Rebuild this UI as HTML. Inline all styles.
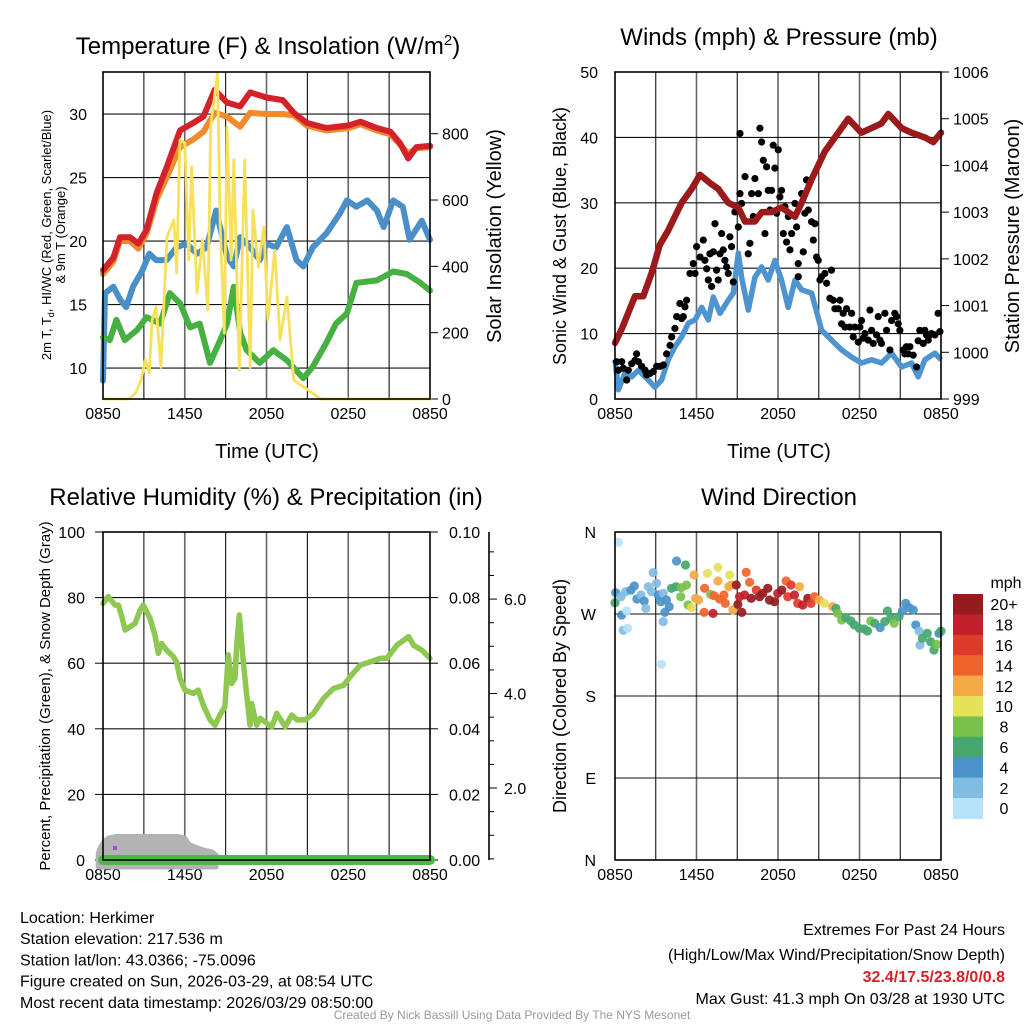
<!DOCTYPE html>
<html><head><meta charset="utf-8"><style>
html,body{margin:0;padding:0;background:#fff}
svg{display:block;font-family:"Liberation Sans",sans-serif}
</style></head><body>
<svg id="c" width="1024" height="1024" viewBox="0 0 1024 1024" xmlns="http://www.w3.org/2000/svg"></svg>
<script>
// ---------- DATA ----------
const timeTickLabels = ["0850","1450","2050","0250","0850"];
const timeTickHours = [0,6,12,18,24];
// Panel 1
const tempTicks = [10,15,20,25,30];
const solarTicks = [0,200,400,600,800];
const tTimes = [0,0.76,1.25,1.98,2.6,3.2,3.94,4.67,5.65,6.63,7.37,8.2,9.1,10.06,10.8,12.0,13.2,14.0,14.95,16.4,18.0,18.9,20.1,21.1,21.8,22.4,23.0,24];
const temp2m = [17.7,18.7,20.3,20.3,19.8,20.9,23.8,25.8,28.7,29.3,29.8,31.9,30.9,30.6,31.7,31.3,31.1,30.1,29.3,28.9,29.1,29.4,28.9,28.6,27.7,26.5,27.4,27.5];
const temp9m = [17.4,18.4,20.0,20.0,19.4,20.6,23.3,25.0,27.4,28.0,28.6,30.1,29.8,29.0,30.1,30.0,30.0,29.9,29.1,28.7,28.9,29.2,28.7,28.4,27.6,26.9,27.3,27.4];
const tdTimes = [0,0.15,0.76,1.25,1.7,2.2,2.9,3.4,3.9,4.67,5.4,6.1,6.9,7.6,8.3,9.1,9.6,10.06,10.8,11.5,12.0,12.7,13.5,14.2,14.7,15.4,16.4,17.4,17.9,18.6,19.4,20.1,20.6,21.3,22.0,22.5,23.4,24];
const dewpoint = [9.0,15.9,16.4,15.4,14.8,16.4,17.7,19.0,18.5,18.5,19.5,19.8,19.0,19.5,22.4,18.8,18.0,20.3,19.5,18.5,19.8,19.5,21.1,18.5,18.0,19.5,20.6,22.2,23.2,22.7,23.2,22.4,21.1,23.2,22.7,20.1,21.6,20.1];
const wcTimes = [0,0.5,0.98,1.6,2.5,3.2,4.2,4.9,5.65,6.4,7.1,7.85,8.6,9.1,9.6,10.06,10.55,11.5,12.5,13.5,14.7,15.4,16.4,17.1,17.9,18.6,20.1,21.3,22.3,23.3,24];
const windChill = [12.4,12.2,13.8,12.2,13.0,14.0,13.5,15.9,15.1,13.2,13.5,10.4,12.2,13.5,16.4,12.8,11.4,10.4,11.4,10.6,9.2,10.1,12.0,13.5,14.3,16.7,16.9,17.6,17.4,16.7,16.1];
const solTimes = [0,1.9,2.4,2.8,3.1,3.4,3.6,3.9,4.25,4.7,5.2,5.4,5.65,6.0,6.3,6.5,6.9,7.3,7.7,7.9,8.4,8.6,8.9,9.1,9.4,9.6,10.0,10.4,10.8,11.0,11.4,11.8,12.1,12.6,13.0,13.5,14.0,16,20,24];
const solar = [0,0,18,57,118,78,238,277,96,489,540,380,781,772,419,700,320,480,268,820,983,519,199,820,419,721,87,721,96,570,398,519,238,449,178,308,57,0,0,0];
// Panel 2
const windTicks = [0,10,20,30,40,50];
const presTicks = [999,1000,1001,1002,1003,1004,1005,1006];
const presTimes = [0,0.5,1.47,2.08,2.7,3.3,3.9,4.9,5.65,6.26,7.1,7.6,8.34,9.08,9.57,10.3,10.8,11.53,12.26,13.25,13.74,14.47,15.45,16.44,17.17,18.15,18.89,19.62,20.12,21.1,21.83,22.81,23.43,24];
const pressure = [1000.2,1000.5,1001.2,1001.2,1001.7,1002.3,1002.6,1003.2,1003.5,1003.8,1003.6,1003.5,1003.2,1003.1,1002.8,1002.8,1003.0,1003.0,1003.1,1002.9,1003.2,1003.7,1004.3,1004.7,1005.0,1004.7,1004.8,1004.9,1005.1,1004.8,1004.7,1004.6,1004.5,1004.7];
const windTimes = [0,0.25,0.74,1.23,1.72,2.45,2.94,3.43,3.92,4.41,4.91,5.4,5.89,6.38,6.87,7.24,7.73,8.34,8.71,9.08,9.32,9.81,10.3,10.79,11.28,11.77,12.26,12.75,13.25,13.74,14.47,15.21,15.94,16.68,17.42,18.15,18.89,19.62,20.36,21.1,21.83,22.32,22.81,23.55,24];
const windSpeed = [6.0,1.4,4.0,3.4,4.4,2.9,1.8,2.9,6.0,8.0,9.5,11.6,12.1,14.0,12.1,15.6,13.1,15.1,16.2,22.3,18.6,13.6,18.6,20.2,18.2,21.2,18.2,14.0,18.2,16.7,16.2,10.5,9.0,7.5,6.4,5.5,6.0,5.5,7.0,4.9,5.5,3.4,6.0,7.0,6.0];
const gustTimes = [0.12,0.25,0.49,0.61,0.86,0.98,1.23,1.47,1.59,1.72,1.96,2.21,2.33,2.58,2.82,3.07,3.31,3.56,3.80,4.05,4.17,4.41,4.54,4.78,4.91,5.03,5.15,5.27,5.52,5.76,5.89,6.01,6.26,6.5,6.62,6.75,6.87,6.99,7.11,7.24,7.36,7.48,7.60,7.73,7.85,7.97,8.09,8.22,8.34,8.46,8.58,8.71,8.83,8.95,9.08,9.2,9.32,9.2,9.57,9.81,9.93,10.06,10.18,10.30,10.55,10.67,10.79,10.92,11.04,11.16,11.28,11.41,11.53,11.65,11.77,11.9,12.02,12.14,12.26,12.39,12.51,12.63,12.76,12.88,13.0,13.25,13.37,13.49,13.49,13.74,13.86,13.98,14.1,14.23,14.47,14.6,14.72,14.84,14.96,15.09,15.21,15.45,15.58,15.82,15.94,16.07,16.19,16.44,16.56,16.68,16.80,16.93,17.05,17.29,17.42,17.54,17.66,17.91,18.03,18.15,18.28,18.4,18.64,18.77,18.89,19.01,19.26,19.38,19.5,19.62,19.87,19.99,20.24,20.36,20.6,20.73,20.85,20.97,21.22,21.34,21.46,21.59,21.71,21.95,22.2,22.32,22.44,22.69,22.81,22.93,23.06,23.18,23.30,23.55,23.79,23.92];
const gustSpeed = [5.7,4.4,5.7,4.7,2.9,4.4,5.4,5.9,6.9,5.7,5.0,4.4,3.7,3.9,4.2,5.0,5.0,5.2,6.9,8.2,9.5,10.8,12.6,14.6,12.3,12.6,14.1,15.1,19.2,20.7,19.2,23.3,21.7,24.3,21.2,19.9,18.2,22.2,17.2,22.5,26.8,19.7,18.2,22.2,25.3,22.8,21.2,20.2,19.2,24.8,23.3,17.9,28.6,29.4,26.3,31.4,29.9,40.6,34.0,22.2,23.8,31.4,27.9,33.7,31.4,41.4,39.3,36.5,25.3,35.5,31.9,28.9,31.9,38.8,35.3,28.4,38.1,30.9,31.9,25.3,29.4,24.0,27.9,22.8,25.3,29.9,26.3,20.7,18.7,31.4,22.5,28.4,33.5,28.9,27.1,24.3,26.8,21.7,21.2,18.2,18.7,19.2,17.7,15.4,19.7,15.1,13.8,13.8,15.1,11.5,13.1,11.0,13.8,11.0,13.1,9.5,11.0,8.7,11.0,12.0,9.3,10.0,9.0,13.6,10.5,8.5,9.8,12.6,9.0,8.5,13.1,10.5,7.5,12.0,13.1,12.6,11.5,10.5,7.5,6.9,8.0,6.9,8.0,6.7,4.9,8.9,10.5,8.5,10.5,9.8,9.0,9.8,10.0,9.8,13.1,10.3];
// Panel 3
const rhTicks = [0,20,40,60,80,100];
const precipTicks = ["0.00","0.02","0.04","0.06","0.08","0.10"];
const snowTicks = [2.0,4.0,6.0];
const rhTimes = [0,0.39,0.88,1.13,1.38,1.62,1.98,2.35,2.72,2.96,3.45,3.81,4.06,4.3,4.67,5.16,5.4,5.65,6.01,6.62,6.99,7.36,7.85,8.22,8.58,8.95,9.2,9.44,9.69,9.81,10.0,10.3,10.55,10.79,10.91,11.28,11.53,12.02,12.39,12.75,13.37,13.86,14.23,14.84,15.45,16.19,16.92,17.66,18.15,18.88,19.61,20.35,20.84,21.57,22.43,22.79,23.4,24];
const rh = [78.2,80.3,77.7,77.7,74.2,70.1,71.1,72.1,76.2,77.7,73.7,68.6,63.0,66.0,64.0,62.0,60.4,55.4,51.8,50.8,51.8,47.2,42.7,41.1,44.2,46.7,62.5,53.8,55.4,65.5,74.7,60.4,50.3,41.1,47.7,41.1,43.2,41.7,40.6,44.7,40.6,44.2,42.7,42.7,44.7,49.3,52.3,53.3,55.9,59.4,60.4,61.5,61.5,65.5,68.1,65.5,64.0,61.5];
const snowTimes = [-0.35,-0.2,0.1,0.4,1.0,3.0,5.5,6.0,6.3,6.8,7.5,8.0,8.3];
const snowDepth = [0.4,0.6,0.8,0.9,0.95,0.95,0.95,0.9,0.7,0.6,0.5,0.45,0.35];
const precipTimes = [0,24];
const precip = [0,0];
// Panel 4
const dirTickLabels = ["N","E","S","W","N"];
const dirTicks = [0,90,180,270,360];
const speedBins = ["0","2","4","6","8","10","12","14","16","18","20+"];
const binColors = ["#b5e2f7","#80bce3","#4a92c9","#45a76e","#78c14b","#e5e159","#f6aa46","#f0642b","#df3b2a","#c11f2a","#951b1f"];
const dirTimes = [0.24,0.05,0,0.44,0.78,1.17,1.42,1.61,1.91,2.15,2.27,2.45,2.69,2.81,3.06,3.18,3.38,3.55,3.79,3.99,3.67,3.55,3.42,0.61,0.93,0.49,0.86,4.53,5.19,4.16,4.48,4.89,5.26,4.84,5.38,5.63,5.82,5.92,6.16,6.6,6.8,7.58,8.44,7.58,7.04,7.29,7.7,8.02,8.37,8.12,8.56,6.56,7.22,8.68,8.93,9.05,9.17,9.34,9.66,9.91,9.54,10.03,10.4,10.64,10.88,11.25,11.37,11.74,11.98,12.28,12.6,12.96,12.72,13.21,13.58,13.45,13.82,14.19,14.43,14.68,15.04,15.41,16.02,16.27,16.39,16.68,17.0,17.37,17.61,17.98,18.35,18.59,18.83,19.13,19.52,19.86,20.06,20.3,20.55,20.91,21.16,21.4,21.65,21.96,22.14,22.38,22.45,22.63,22.99,23.24,23.48,23.68,23.85,24.0];
const dirValues = [348.7,293.4,282.4,289,294.5,296.3,300.7,286.5,290.9,284.3,276.2,300,294.5,315.4,303.7,290.9,283.5,292.7,285.4,278,271.8,261.6,214.8,252.1,254.3,268.9,273.3,328.2,323.8,298.2,300,298.9,301.8,289,279.9,277,312.8,287.2,285.4,298.2,314.6,321.2,312.8,306.2,291.6,290.1,286.5,290.9,300,281.7,301.8,271.8,270.7,274.4,301.8,280.6,289,271.8,315.7,304.8,290.9,287.2,296.3,289,292.7,298.2,285.4,283.5,292.7,296.3,306.2,301.8,289,290.9,300,281.7,279.9,287.2,281.7,289,285.4,281.7,278.1,276.2,270.7,263.4,266,262.3,258,254.3,253.5,251.3,262.3,259.8,255,261.6,273.3,265.2,259.8,267.1,273.3,281.7,277,274.4,258,251.3,236,243.3,248.8,239.6,230.5,236.7,248.8,251.3];
const dirSpeeds = [0,4,6,2,2,4,4,4,2,4,2,2,2,2,2,4,4,2,4,4,4,2,0,2,1,4,0,4,6,6,6,8,8,8,8,10,12,12,12,14,10,10,10,12,8,14,14,14,12,14,12,14,18,12,20,20,18,20,14,14,18,20,16,20,20,20,20,20,18,20,14,16,16,18,12,16,18,20,16,14,12,10,12,6,8,8,6,6,6,6,6,6,8,6,4,6,6,6,8,6,4,4,4,4,4,2,2,6,6,6,6,8,4,6];

// ---------- DRAW ----------
const svg = document.getElementById('c');
const NS = 'http://www.w3.org/2000/svg';
function el(tag, attrs, parent){
  const e = document.createElementNS(NS, tag);
  for (const k in attrs) e.setAttribute(k, attrs[k]);
  (parent||svg).appendChild(e);
  return e;
}
function txt(s, x, y, size, anchor, parent, extra){
  const t = el('text', Object.assign({x:x, y:y, 'font-size':size, 'text-anchor':anchor||'middle', fill:'#000'}, extra||{}), parent);
  t.textContent = s;
  return t;
}
function lin(d0,d1,r0,r1){ return v => r0 + (v-d0)/(d1-d0)*(r1-r0); }
function pathFrom(xs, ys, fx, fy){
  let d='';
  for (let i=0;i<xs.length;i++) d += (i?'L':'M') + fx(xs[i]).toFixed(1) + ',' + fy(ys[i]).toFixed(1);
  return d;
}
function frame(g, X0, X1, Y0, Y1, fx){
  for (let h=3; h<24; h+=3){
    const x = fx(h);
    const ln = el('line',{x1:x,x2:x,y1:Y0,y2:Y1,stroke: h%6===0?'#666':'#111','stroke-width':h%6===0?1.6:1.1}, g);
    
    
  }
  for (let i=0;i<timeTickHours.length;i++){
    const t = txt(timeTickLabels[i], fx(timeTickHours[i]), Y1+20, 16, 'middle', g);
    
    
  }
}
function box(g,X0,X1,Y0,Y1){
  const r = el('rect',{x:X0,y:Y0,width:X1-X0,height:Y1-Y0,fill:'none',stroke:'#000','stroke-width':1.6}, g);
  
  
}
function hgrid(g,X0,X1,y){
  const l = el('line',{x1:X0,x2:X1,y1:y,y2:y,stroke:'#111','stroke-width':1.1},g);
  
  
}

// ===== Panel 1 =====
(function(){
  const g = el('g',{});  
  const X0=103,X1=430,Y0=72,Y1=399;
  const fx = lin(0,24,X0,X1);
  const fy = lin(7.56,33.31,Y1,Y0);
  const fs = lin(0,986,Y1,Y0);
  frame(g,X0,X1,Y0,Y1,fx);
  tempTicks.forEach(v=>{ hgrid(g,X0,X1,fy(v));
    const t=txt(String(v),87,fy(v)+6,16,'end',g);   });
  solarTicks.forEach(v=>{ el('line',{x1:X1,x2:X1+8,y1:fs(v),y2:fs(v),stroke:'#000'},g);
    const t=txt(String(v),442,fs(v)+6,16,'start',g);   });
  const series = [[tdTimes,dewpoint,'#4a8fc8',6,'dewpoint-line',fy],[wcTimes,windChill,'#46b042',6,'windchill-line',fy],[tTimes,temp9m,'#f08a2c',6,'temp-9m-line',fy],[tTimes,temp2m,'#d4222a',6,'temp-2m-line',fy],[solTimes,solar,'#f8e05a',2.8,'solar-line',fs]];
  series.forEach(s=>{
    const p = el('path',{d:pathFrom(s[0],s[1],fx,s[5]),fill:'none',stroke:s[2],'stroke-width':s[3],'stroke-linejoin':'round','stroke-linecap':'round'},g);
    
    
  });
  box(g,X0,X1,Y0,Y1);
  let t = el('text',{x:268,y:54,'font-size':24,'text-anchor':'middle'},g);
   
  t.innerHTML = 'Temperature (F) &amp; Insolation (W/m<tspan dy="-9" font-size="15">2</tspan><tspan dy="9">)</tspan>';
  t = txt('Time (UTC)',267,458,20,'middle',g);  
  t = el('text',{'font-size':13,'text-anchor':'middle',transform:'translate(51,235) rotate(-90)'},g);
   
  t.innerHTML = '2m T, T<tspan dy="3" font-size="9">d</tspan><tspan dy="-3">, HI/WC (Red, Green, Scarlet/Blue)</tspan>';
  t = txt('& 9m T (Orange)',0,0,13,'middle',g,{transform:'translate(65,235) rotate(-90)'});
   
  t = txt('Solar Insolation (Yellow)',0,0,20,'middle',g,{transform:'translate(501,236) rotate(-90)'});
   
})();

// ===== Panel 2 =====
(function(){
  const g = el('g',{});  
  const X0=615,X1=941,Y0=72,Y1=399;
  const fx = lin(0,24,X0,X1);
  const fy = lin(0,50,Y1,Y0);
  const fp = lin(999,1006,Y1,Y0);
  frame(g,X0,X1,Y0,Y1,fx);
  windTicks.forEach(v=>{ if(v>0&&v<50) hgrid(g,X0,X1,fy(v));
    const t=txt(String(v),598,fy(v)+6,16,'end',g);   });
  presTicks.forEach(v=>{ el('line',{x1:X1,x2:X1+8,y1:fp(v),y2:fp(v),stroke:'#000'},g);
    const t=txt(String(v),953,fp(v)+6,16,'start',g);   });
  let p = el('path',{d:pathFrom(windTimes,windSpeed,fx,fy),fill:'none',stroke:'#4e94d0','stroke-width':5.5,'stroke-linejoin':'round'},g);
   
  for (let i=0;i<gustTimes.length;i++){
    const c = el('circle',{cx:fx(gustTimes[i]),cy:fy(gustSpeed[i]),r:3.6,fill:'#000'},g);
    
    
  }
  p = el('path',{d:pathFrom(presTimes,pressure,fx,fp),fill:'none',stroke:'#9b1a1c','stroke-width':6.5,'stroke-linejoin':'round','stroke-linecap':'round'},g);
   
  box(g,X0,X1,Y0,Y1);
  let t = txt('Winds (mph) & Pressure (mb)',779,45,24,'middle',g);  
  t = txt('Time (UTC)',779,458,20,'middle',g);  
  t = txt('Sonic Wind & Gust (Blue, Black)',0,0,18,'middle',g,{transform:'translate(566,236) rotate(-90)'});  
  t = txt('Station Pressure (Maroon)',0,0,20,'middle',g,{transform:'translate(1019,236) rotate(-90)'});  
})();

// ===== Panel 3 =====
(function(){
  const g = el('g',{});  
  const X0=103,X1=430,Y0=532,Y1=860;
  const fx = lin(0,24,X0,X1);
  const fy = lin(0,100,Y1,Y0);
  const fpr = lin(0,0.1,Y1,Y0);
  const fsn = lin(0,7.42,882.5,Y0);
  const fsnArea = lin(0,1,Y1+6,Y1-25);
  frame(g,X0,X1,Y0,Y1,fx);
  rhTicks.forEach(v=>{ if(v>0&&v<100) hgrid(g,X0,X1,fy(v));
    el('line',{x1:X0-8,x2:X0,y1:fy(v),y2:fy(v),stroke:'#000'},g);
    const t=txt(String(v),85,fy(v)+6,16,'end',g);   });
  precipTicks.forEach(v=>{ const y=fpr(parseFloat(v)); el('line',{x1:X1,x2:X1+8,y1:y,y2:y,stroke:'#000'},g);
    const t=txt(v,449,y+6,16,'start',g);   });
  const sx = 489;
  let a = el('line',{x1:sx,x2:sx,y1:Y0,y2:Y1,stroke:'#000','stroke-width':1.6},g);
   
  for (let v=0.5; v<7.4; v+=0.5){ const y=fsn(v); if(y<Y1) el('line',{x1:sx,x2:sx+(v%2===0?8:5),y1:y,y2:y,stroke:'#000'},g); }
  snowTicks.forEach(v=>{ const t=txt(v.toFixed(1),504,fsn(v)+6,16,'start',g);   });
  // snow area
  let d = 'M' + fx(snowTimes[0]).toFixed(1) + ',' + (Y1+7);
  for (let i=0;i<snowTimes.length;i++) d += 'L' + fx(snowTimes[i]).toFixed(1) + ',' + fsnArea(snowDepth[i]).toFixed(1);
  d += 'L' + fx(snowTimes[snowTimes.length-1]).toFixed(1) + ',' + (Y1+7) + 'Z';
  let p = el('path',{d:d,fill:'#b3b3b3',stroke:'#b3b3b3','stroke-width':5,'stroke-linejoin':'round'},g);
   
  p = el('path',{d:pathFrom(precipTimes,precip,fx,fpr),fill:'none',stroke:'#4db848','stroke-width':10,'stroke-linecap':'round'},g);
   
  p = el('rect',{x:113,y:846,width:4,height:4,fill:'#b040e0'},g);
   
  p = el('path',{d:pathFrom(rhTimes,rh,fx,fy),fill:'none',stroke:'#8ec850','stroke-width':5.5,'stroke-linejoin':'round','stroke-linecap':'round'},g);
   
  box(g,X0,X1,Y0,Y1);
  let t = txt('Relative Humidity (%) & Precipitation (in)',266,505,24,'middle',g);  
  t = txt('Percent, Precipitation (Green), & Snow Depth (Gray)',0,0,15,'middle',g,{transform:'translate(50,696) rotate(-90)'});  
})();

// ===== Panel 4 =====
(function(){
  const g = el('g',{});  
  const X0=615,X1=941,Y0=532,Y1=860;
  const fx = lin(0,24,X0,X1);
  const fy = lin(0,360,Y1,Y0);
  frame(g,X0,X1,Y0,Y1,fx);
  dirTicks.forEach((v,i)=>{ if(v>0&&v<360) hgrid(g,X0,X1,fy(v));
    const t=txt(dirTickLabels[i],596,fy(v)+6,16,'end',g);   });
  for (let i=0;i<dirTimes.length;i++){
    const bin = Math.min(10, Math.floor(dirSpeeds[i]/2));
    const c = el('circle',{cx:fx(dirTimes[i]),cy:fy(dirValues[i]),r:4.6,fill:binColors[bin],'fill-opacity':0.92},g);
    
    
  }
  box(g,X0,X1,Y0,Y1);
  const cb = el('g',{},g);  
  const bh = 20.4, top = 594;
  for (let i=0;i<speedBins.length;i++){
    const k = speedBins.length-1-i;
    const r = el('rect',{x:953,y:top+i*bh,width:30,height:bh+0.5,fill:binColors[k]},cb);
     
    const t = txt(speedBins[k],1004,top+i*bh+bh/2+6,16,'middle',cb);  
  }
  let t = txt('mph',1006,588,16,'middle',cb);  
  t = txt('Wind Direction',779,505,24,'middle',g);  
  t = txt('Direction (Colored By Speed)',0,0,18,'middle',g,{transform:'translate(566,696) rotate(-90)'});  
})();

// ===== Footer text =====
(function(){
  const g = el('g',{});  
  const lines = ["Location: Herkimer","Station elevation: 217.536 m","Station lat/lon: 43.0366; -75.0096","Figure created on Sun, 2026-03-29, at 08:54 UTC","Most recent data timestamp: 2026/03/29 08:50:00"];
  lines.forEach((s,i)=>{ const t=txt(s,20,923+i*21.2,16,'start',g);   });
  const g2 = el('g',{});  
  let t = txt('Extremes For Past 24 Hours',1005,935,16,'end',g2);  
  t = txt('(High/Low/Max Wind/Precipitation/Snow Depth)',1005,960,16,'end',g2);  
  t = txt('32.4/17.5/23.8/0/0.8',1005,982,16,'end',g2,{fill:'#d4222a','font-weight':'bold'});  
  t = txt('Max Gust: 41.3 mph On 03/28 at 1930 UTC',1005,1004,16,'end',g2);  
  t = txt('Created By Nick Bassill Using Data Provided By The NYS Mesonet',512,1019,12,'middle',svg,{fill:'#999'});  
})();
</script>
</body></html>
